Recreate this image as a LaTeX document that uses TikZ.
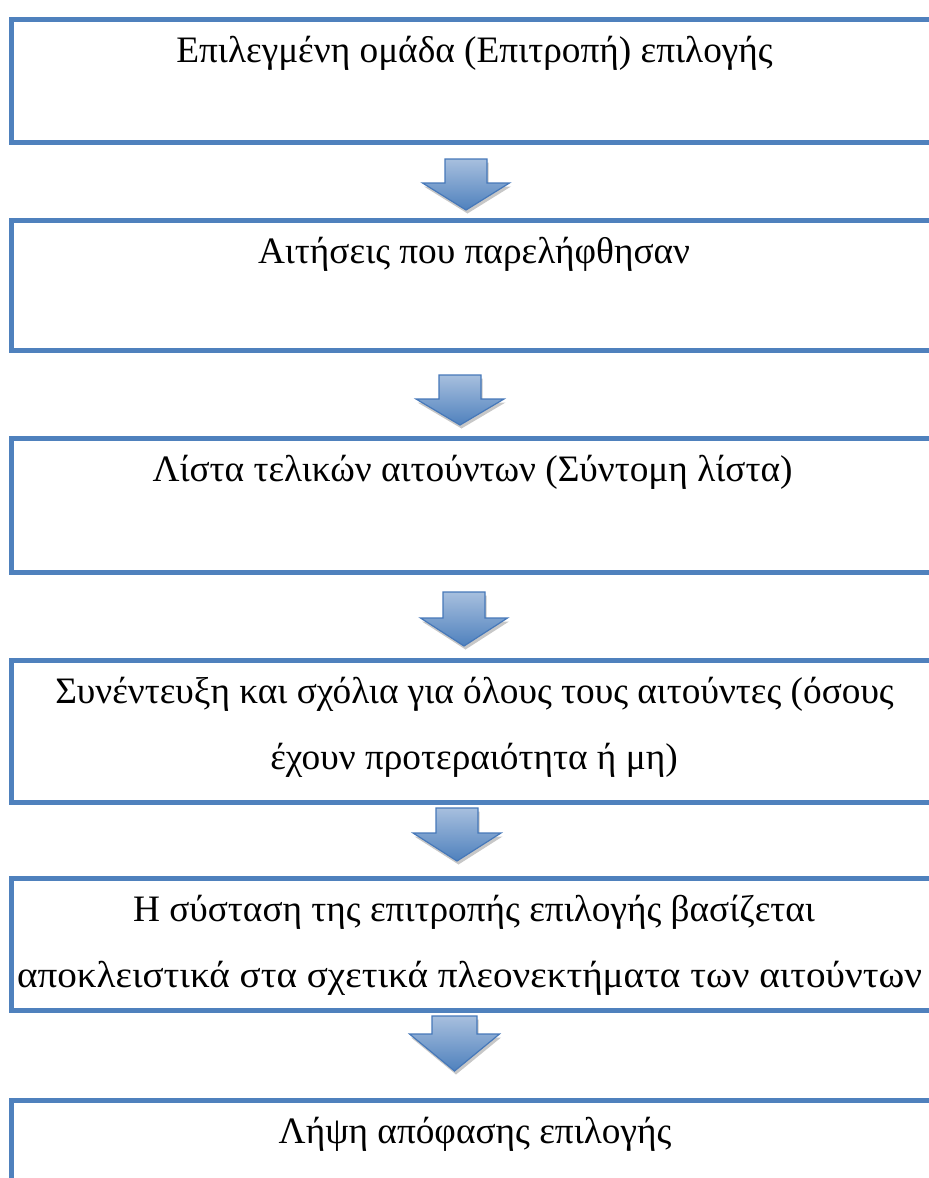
\documentclass[tikz,border=0pt]{standalone}
\usepackage{fontspec}
\usepackage{graphicx}
\setmainfont{Liberation Serif}
\definecolor{boxblue}{RGB}{79,129,189}
\definecolor{arrtop}{RGB}{167,191,222}
\definecolor{arrbot}{RGB}{79,129,189}
\definecolor{arredge}{RGB}{70,120,185}
\newcommand\blkarrow[7]{% cx, top, wing, tip, shaft half, head half, name
  \fill[black!22,shift={(1.5,3.5)}] (#1-#5,#2) -- (#1+#5,#2) -- (#1+#5,#3) -- (#1+#6,#3) -- (#1,#4) -- (#1-#6,#3) -- (#1-#5,#3) -- cycle;
  \path[top color=arrtop,bottom color=arrbot,draw=arredge,line width=1.2pt,line join=miter]
    (#1-#5,#2) -- (#1+#5,#2) -- (#1+#5,#3) -- (#1+#6,#3) -- (#1,#4) -- (#1-#6,#3) -- (#1-#5,#3) -- cycle;
  \coordinate (#7) at (#1,#4);
}
\begin{document}
\begin{tikzpicture}[x=1pt,y=-1pt,
  flowbox/.style={draw=boxblue,line width=5pt,rectangle,minimum width=926pt,inner sep=0pt,anchor=north},
  lbl/.style={anchor=base,font=\fontsize{37.3}{66}\selectfont,inner sep=0pt,align=center}]
\useasboundingbox (0,0) rectangle (929,1178);
\clip (0,0) rectangle (929,1178);
\node[flowbox,minimum height=123.5pt] (b1) at (474,16.5) {};
\node[flowbox,minimum height=130pt] (b2) at (474,218) {};
\node[flowbox,minimum height=134pt] (b3) at (474,436) {};
\node[flowbox,minimum height=142.5pt] (b4) at (474,657.5) {};
\node[flowbox,minimum height=131.5pt] (b5) at (474,876) {};
\node[flowbox,minimum height=140pt] (b6) at (474,1097.5) {};
\node[lbl] (t1) at (474.5,62) {Επιλεγμένη ομάδα (Επιτροπή) επιλογής};
\node[lbl] (t2) at (474,263.5) {Αιτήσεις που παρελήφθησαν};
\node[lbl] (t3) at (472.5,481.5) {Λίστα τελικών αιτούντων (Σύντομη λίστα)};
\node[lbl] (t4a) at (474.5,703) {Συνέντευξη και σχόλια για όλους τους αιτούντες (όσους};
\node[lbl] (t4b) at (474,769) {έχουν προτεραιότητα ή μη)};
\node[lbl] (t5a) at (474,921.5) {Η σύσταση της επιτροπής επιλογής βασίζεται};
\node[lbl] (t5b) at (469.5,987.5) {\scalebox{1.05}[1]{αποκλειστικά στα σχετικά πλεονεκτήματα των αιτούντων}};
\node[lbl] (t6) at (475,1143) {Λήψη απόφασης επιλογής};
\blkarrow{466}{159}{183}{210}{21}{43.5}{a1}
\blkarrow{460}{375}{399}{425}{21}{44}{a2}
\blkarrow{464}{592}{618}{646}{21}{43.5}{a3}
\blkarrow{457}{808}{833}{861}{21}{44}{a4}
\blkarrow{454.5}{1016}{1034}{1071}{22.5}{45}{a5}
\end{tikzpicture}
\end{document}
